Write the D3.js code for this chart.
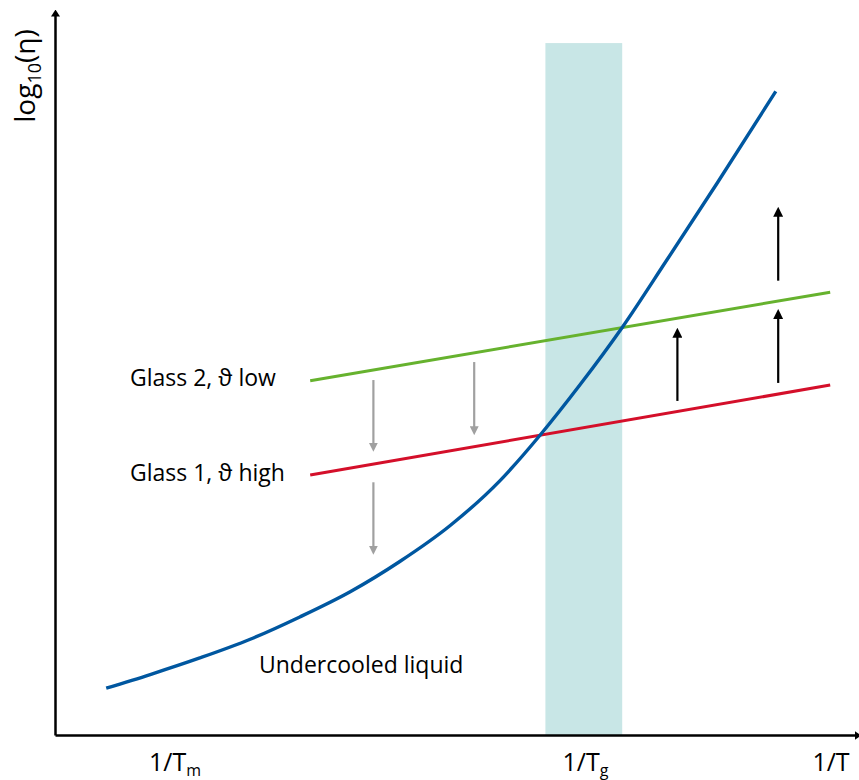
<!DOCTYPE html>
<html>
<head>
<meta charset="utf-8">
<script src="https://cdn.jsdelivr.net/npm/d3@7"></script>
<style>
  body { margin: 0; background: #fff; }
  svg { display: block; font-family: "Open Sans", Lato, sans-serif; }
</style>
</head>
<body>
<svg id="chart" width="859" height="780"></svg>
<script>
// Data (abstract units, 0..10 on both axes)
var liquidX = [0.64, 1.19, 1.81, 2.44, 3.06, 3.69, 4.31, 4.94, 5.56, 6.06, 6.56, 7.09, 7.65, 8.28, 9.01];
var liquidY = [0.65, 0.84, 1.07, 1.33, 1.64, 1.99, 2.41, 2.91, 3.53, 4.16, 4.86, 5.66, 6.60, 7.67, 8.94];

var glass2X = [3.19, 9.69];
var glass2Y = [4.92, 6.15];
var glass1X = [3.19, 9.69];
var glass1Y = [3.61, 4.86];

// glass transition band
var bandX = [6.13, 7.09];
var bandTop = 9.61;

// arrows: [x, yStart, yEnd]
var grayArrows = [[3.98, 4.93, 3.92], [5.24, 5.18, 4.15], [3.98, 3.51, 2.49]];
var blackArrows = [[7.78, 4.64, 5.67], [9.04, 4.89, 5.93], [9.04, 6.31, 7.35]];

// tick labels
var tickPos = [1.5, 6.63, 9.7];
var tickMain = ['1/T', '1/T', '1/T'];
var tickSub = ['m', 'g', ''];

var svg = d3.select('#chart');

var x = d3.scaleLinear().domain([0, 10]).range([55, 855]);
var y = d3.scaleLinear().domain([0, 10]).range([735, 15]);

// Arrow markers
var defs = svg.append('defs');
function addMarker(id, color, w, l) {
    defs.append('marker')
        .attr('id', id)
        .attr('markerUnits', 'userSpaceOnUse')
        .attr('viewBox', '0 0 ' + l + ' ' + w)
        .attr('refX', 1)
        .attr('refY', w / 2)
        .attr('markerWidth', l)
        .attr('markerHeight', w)
        .attr('orient', 'auto')
        .append('path')
        .attr('d', 'M0,0L' + l + ',' + (w / 2) + 'L0,' + w + 'Z')
        .attr('fill', color);
}
addMarker('head-black', '#000', 10, 10);
addMarker('head-gray', '#a0a0a0', 9, 9);
addMarker('head-axis', '#000', 9, 7);

// Glass transition band
svg.append('rect')
    .attr('x', x(bandX[0]))
    .attr('y', y(bandTop))
    .attr('width', x(bandX[1]) - x(bandX[0]))
    .attr('height', y(0) - y(bandTop))
    .attr('fill', '#c8e6e6');

// Axes (no ticks, just the lines with arrow heads)
svg.append('g')
    .attr('transform', 'translate(0,' + y(0) + ')')
    .call(d3.axisBottom(x).tickValues([]).tickSizeOuter(0));
svg.append('g')
    .attr('transform', 'translate(' + x(0) + ',0)')
    .call(d3.axisLeft(y).tickValues([]).tickSizeOuter(0));
svg.selectAll('.domain')
    .attr('stroke', '#000')
    .attr('stroke-width', 2.5)
    .attr('marker-end', 'url(#head-axis)');

// Lines
var line = d3.line().x(function(d) { return x(d[0]); }).y(function(d) { return y(d[1]); });

svg.append('path')
    .datum(d3.zip(glass2X, glass2Y))
    .attr('d', line)
    .attr('fill', 'none')
    .attr('stroke', '#66b22e')
    .attr('stroke-width', 3);

svg.append('path')
    .datum(d3.zip(glass1X, glass1Y))
    .attr('d', line)
    .attr('fill', 'none')
    .attr('stroke', '#d40f2a')
    .attr('stroke-width', 3);

svg.append('path')
    .datum(d3.zip(liquidX, liquidY))
    .attr('d', line.curve(d3.curveMonotoneX))
    .attr('fill', 'none')
    .attr('stroke', '#0057a0')
    .attr('stroke-width', 3.4);

// Arrows
function drawArrows(list, color, width, marker, shorten) {
    svg.selectAll(null)
        .data(list)
        .enter().append('line')
        .attr('x1', function(d) { return x(d[0]); })
        .attr('x2', function(d) { return x(d[0]); })
        .attr('y1', function(d) { return y(d[1]); })
        .attr('y2', function(d) { return y(d[2]) + (d[2] > d[1] ? shorten : -shorten); })
        .attr('stroke', color)
        .attr('stroke-width', width)
        .attr('marker-end', 'url(#' + marker + ')');
}
drawArrows(grayArrows, '#a0a0a0', 2.2, 'head-gray', 9);
drawArrows(blackArrows, '#000', 2.2, 'head-black', 10);

// Text labels
svg.append('text')
    .attr('x', 130).attr('y', 386)
    .attr('font-size', 23)
    .text('Glass 2, \u03d1 low');
svg.append('text')
    .attr('x', 130).attr('y', 481)
    .attr('font-size', 23)
    .text('Glass 1, \u03d1 high');
svg.append('text')
    .attr('x', 259).attr('y', 673)
    .attr('font-size', 23)
    .text('Undercooled liquid');

// Tick labels on the x axis
var ticks = svg.selectAll(null)
    .data(tickPos)
    .enter().append('text')
    .attr('x', function(d) { return x(d); })
    .attr('y', 771)
    .attr('text-anchor', 'middle')
    .attr('font-size', 25);
ticks.append('tspan').text(function(d, i) { return tickMain[i]; });
ticks.append('tspan')
    .attr('dy', 5)
    .attr('font-size', 16)
    .text(function(d, i) { return tickSub[i]; });

// Y axis label
var yl = svg.append('text')
    .attr('transform', 'translate(35,76) rotate(-90)')
    .attr('text-anchor', 'middle')
    .attr('font-size', 28);
yl.append('tspan').text('log');
yl.append('tspan').attr('dy', 6).attr('font-size', 18).text('10');
yl.append('tspan').attr('dy', -6).text('(\u03b7)');
</script>
</body>
</html>
